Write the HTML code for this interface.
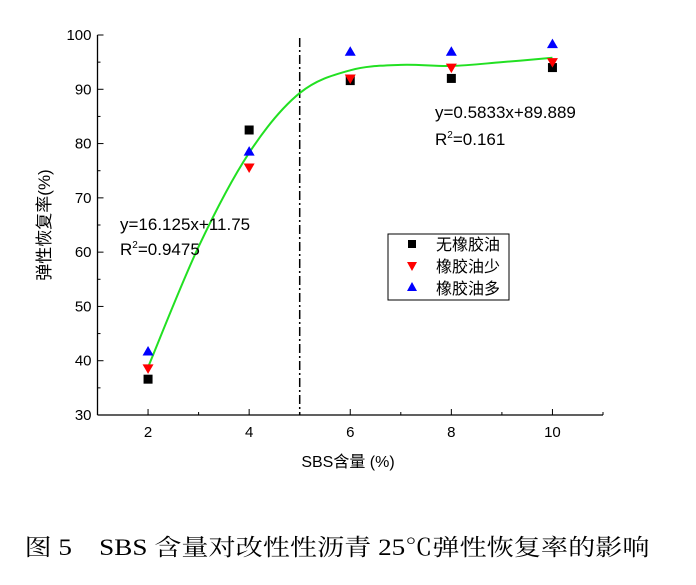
<!DOCTYPE html>
<html><head><meta charset="utf-8"><style>
body{margin:0;background:#fff;}
.s{font-family:"Liberation Sans","Noto Sans CJK SC",sans-serif;}
.cap{font-family:"Liberation Serif","Noto Serif CJK SC",serif;}
</style></head><body>
<svg id="c" width="696" height="580" xmlns="http://www.w3.org/2000/svg">
<g id="axes" class="s"></g>
<g id="marks"></g>
<text class="s" x="120" y="230" font-size="17">y=16.125x+11.75</text>
<text class="s" x="120" y="255" font-size="17">R<tspan font-size="10" dy="-7">2</tspan><tspan dy="7">=0.9475</tspan></text>
<text class="s" x="435" y="118" font-size="17">y=0.5833x+89.889</text>
<text class="s" x="435" y="145" font-size="17">R<tspan font-size="10" dy="-7">2</tspan><tspan dy="7">=0.161</tspan></text>
<g class="s">
<rect x="388" y="234" width="121" height="66" fill="#fff" stroke="#000" stroke-width="1"/>
<rect x="408" y="240" width="8" height="8" fill="#000"/>
<text x="436" y="250" font-size="16">无橡胶油</text>
<polygon points="407,262 417,262 412,271" fill="#f00"/>
<text x="436" y="272" font-size="16">橡胶油少</text>
<polygon points="407,291 417,291 412,282" fill="#00f"/>
<text x="436" y="294" font-size="16">橡胶油多</text>
</g>
<text class="s" x="348" y="467" font-size="16" text-anchor="middle">SBS含量 (%)</text>
<text class="s" transform="translate(50,225) rotate(-90)" font-size="17" text-anchor="middle">弹性恢复率(%)</text>
<text class="cap" x="337" y="555" font-size="23" text-anchor="middle" textLength="625" lengthAdjust="spacingAndGlyphs">图 5　SBS 含量对改性性沥青 25℃弹性恢复率的影响</text>
</svg>
<script>
const xCats=[2,4,6,8,10];
const seriesNone=[36.6,82.5,91.6,92,94];
const seriesLess=[38.5,75.5,91.9,93.9,94.9];
const seriesMore=[41.8,78.6,97,97,98.4];
const curveX=[2,3,4,5,6,7,8,9,10];
const curveY=[38.8,61,78.3,89.3,93.5,94.5,94.3,95,95.8];
const xTicks=[2,4,6,8,10];
const yTicks=[30,40,50,60,70,80,90,100];
const NS="http://www.w3.org/2000/svg";
const L=97.5,R=603,T=35,B=415;
const xs=v=>L+(v-1)*(R-L)/10;
const ys=v=>B-(v-30)*(B-T)/70;
function mk(tag,attrs,parent){const e=document.createElementNS(NS,tag);for(const k in attrs)e.setAttribute(k,attrs[k]);parent.appendChild(e);return e;}
const ax=document.getElementById('axes'),mg=document.getElementById('marks');
let e=mk('line',{x1:L,y1:T,x2:L,y2:B,stroke:'#000','stroke-width':1.3},ax);


e=mk('line',{x1:L,y1:B,x2:R,y2:B,stroke:'#000','stroke-width':1.3},ax);


for(let v=30;v<=100;v+=5){const y=ys(v);const len=v%10===0?6:3;
e=mk('line',{x1:L,y1:y,x2:L+len,y2:y,stroke:'#000'},ax);

}
yTicks.forEach(v=>{e=mk('text',{x:L-6,y:ys(v)+5,'font-size':15,'text-anchor':'end'},ax);e.textContent=v;

});
for(let v=1;v<=11;v++){const x=xs(v);const len=v%2===0?6:3;
e=mk('line',{x1:x,y1:B,x2:x,y2:B-len,stroke:'#000'},ax);

}
xTicks.forEach(v=>{e=mk('text',{x:xs(v),y:B+22,'font-size':15,'text-anchor':'middle'},ax);e.textContent=v;

});
e=mk('line',{x1:xs(5),y1:T+3,x2:xs(5),y2:B,stroke:'#000','stroke-width':1.5,'stroke-dasharray':'9,3,2,3'},mg);


const P=curveX.map((x,i)=>[xs(x),ys(curveY[i])]);
let d='M'+P[0][0]+','+P[0][1];
for(let i=0;i<P.length-1;i++){const p0=P[Math.max(0,i-1)],p1=P[i],p2=P[i+1],p3=P[Math.min(P.length-1,i+2)];
d+=' C'+(p1[0]+(p2[0]-p0[0])/6)+','+(p1[1]+(p2[1]-p0[1])/6)+' '+(p2[0]-(p3[0]-p1[0])/6)+','+(p2[1]-(p3[1]-p1[1])/6)+' '+p2[0]+','+p2[1];}
e=mk('path',{d:d,fill:'none',stroke:'#22e022','stroke-width':2},mg);


xCats.forEach((c,i)=>{const x=xs(c);
let y=ys(seriesNone[i]);
e=mk('rect',{x:x-4.5,y:y-4.5,width:9,height:9,fill:'#000'},mg);


y=ys(seriesLess[i]);
e=mk('polygon',{points:`${x-5.5},${y-4.5} ${x+5.5},${y-4.5} ${x},${y+5}`,fill:'#f00'},mg);


y=ys(seriesMore[i]);
e=mk('polygon',{points:`${x-5.5},${y+4.5} ${x+5.5},${y+4.5} ${x},${y-5}`,fill:'#00f'},mg);


});
</script>
</body></html>
